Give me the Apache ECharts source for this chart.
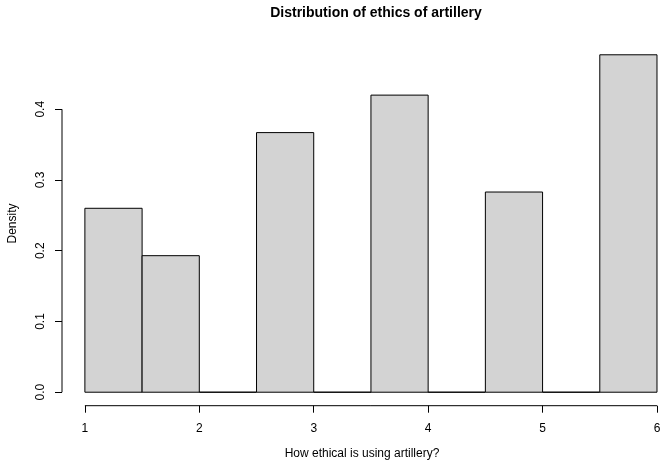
<!DOCTYPE html>
<html>
<head>
<meta charset="utf-8">
<script src="https://cdn.jsdelivr.net/npm/echarts@6/dist/echarts.min.js"></script>
<style>
html,body{margin:0;padding:0;background:#fff;}
#chart{width:662px;height:461px;}
</style>
</head>
<body>
<div id="chart"></div>
<script>
// Histogram bin edges and densities
var binStarts = [1.0, 1.5, 2.0, 2.5, 3.0, 3.5, 4.0, 4.5, 5.0, 5.5];
var binEnds   = [1.5, 2.0, 2.5, 3.0, 3.5, 4.0, 4.5, 5.0, 5.5, 6.0];
var densities = [0.260, 0.193, 0.000, 0.367, 0.000, 0.420, 0.000, 0.283, 0.000, 0.477];
var xTicks = [1, 2, 3, 4, 5, 6];
var yTicks = [0.0, 0.1, 0.2, 0.3, 0.4];
var titleText = 'Distribution of ethics of artillery';
var xTitle = 'How ethical is using artillery?';
var yTitle = 'Density';

var FONT = 'Liberation Sans, Arial, Helvetica, sans-serif';
var yMax = Math.max.apply(null, densities);
var yMinAxis = -0.04 * yMax;
var yMaxAxis = 1.04 * yMax;
var xMinAxis = 1 - 0.04 * 5;

var barData = binStarts.map(function (s, i) { return [s, binEnds[i], densities[i]]; });

var chart = echarts.init(document.getElementById('chart'), null, {renderer: 'canvas'});
chart.setOption({
  animation: false,
  backgroundColor: '#ffffff',
  title: {
    text: titleText,
    left: 371, top: 1, textAlign: 'center',
    textStyle: {fontFamily: FONT, fontSize: 14, fontWeight: 'bold', color: '#000'}
  },
  grid: {left: 62, top: 41.3, right: 0, bottom: 55.3, containLabel: false, outerBoundsMode: 'none'},
  xAxis: {
    type: 'value', min: xMinAxis, max: 6.0437,
    axisLine: {show: false, onZero: false},
    axisTick: {show: true, length: 7, customValues: xTicks, lineStyle: {color: '#000', width: 1}},
    axisLabel: {customValues: xTicks, margin: 17, fontFamily: FONT, fontSize: 12, color: '#000',
      formatter: function (v) { return String(v); }},
    splitLine: {show: false},
    name: xTitle, nameLocation: 'middle', nameGap: 42,
    nameTextStyle: {fontFamily: FONT, fontSize: 12, color: '#000'}
  },
  yAxis: {
    type: 'value', min: yMinAxis, max: yMaxAxis,
    axisLine: {show: false, onZero: false},
    axisTick: {show: true, length: 7, customValues: yTicks, lineStyle: {color: '#000', width: 1}},
    axisLabel: {customValues: yTicks, rotate: 90, margin: 15, fontFamily: FONT, fontSize: 12, color: '#000',
      formatter: function (v) { return v.toFixed(1); }},
    splitLine: {show: false},
    name: yTitle, nameLocation: 'middle', nameGap: 43, nameRotate: 90,
    nameTextStyle: {fontFamily: FONT, fontSize: 12, color: '#000'}
  },
  series: [
    {
      type: 'custom',
      clip: false,
      data: barData,
      encode: {x: [0, 1], y: 2},
      renderItem: function (params, api) {
        var p0 = api.coord([api.value(0), 0]);
        var p1 = api.coord([api.value(1), api.value(2)]);
        return {
          type: 'rect',
          shape: {x: p0[0], y: p1[1], width: p1[0] - p0[0], height: p0[1] - p1[1]},
          style: {fill: '#d3d3d3', stroke: '#000', lineWidth: 1}
        };
      }
    },
    {
      type: 'line', symbol: 'none', clip: false, silent: true,
      lineStyle: {color: '#000', width: 1},
      data: [[xTicks[0], yMinAxis], [xTicks[xTicks.length - 1], yMinAxis]]
    },
    {
      type: 'line', symbol: 'none', clip: false, silent: true,
      lineStyle: {color: '#000', width: 1},
      data: [[xMinAxis, yTicks[0]], [xMinAxis, yTicks[yTicks.length - 1]]]
    }
  ]
});
</script>
</body>
</html>
